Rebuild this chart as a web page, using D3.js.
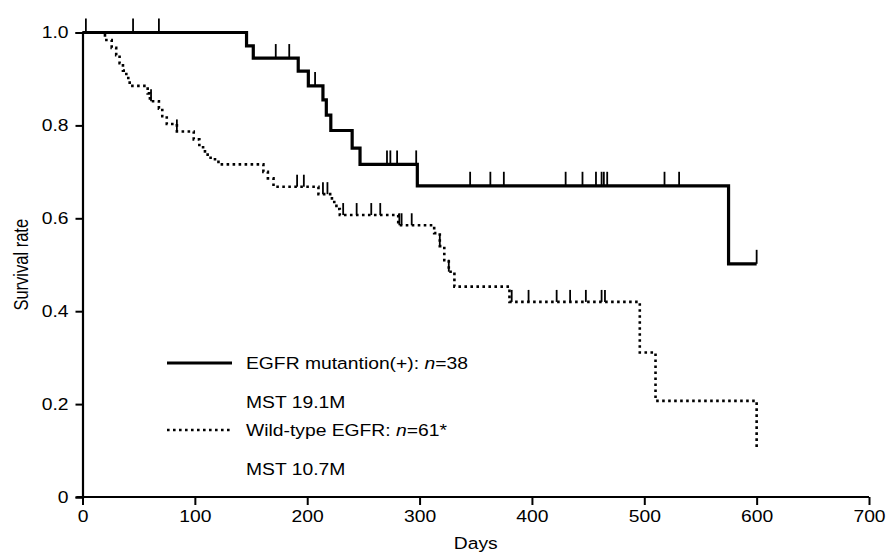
<!DOCTYPE html>
<html>
<head>
<meta charset="utf-8">
<script src="https://cdn.jsdelivr.net/npm/d3@7"></script>
<style>
  body { margin: 0; background: #fff; }
  svg { display: block; font-family: "Liberation Sans", Arial, sans-serif; }
</style>
</head>
<body>
<svg id="chart" width="889" height="552"></svg>
<script>
// step curves: [day, survival]
const mutantSteps = [[0, 1.0], [146, 0.971], [152, 0.945], [192, 0.917], [201, 0.885], [214, 0.855],
  [217, 0.822], [221, 0.789], [240, 0.751], [247, 0.716], [298, 0.670], [575, 0.502]];
const mutantEnd = 600;
const mutantCensored = [3, 45, 68, 172, 184, 207, 271, 274, 280, 297, 345, 363, 375, 430, 445, 457,
  462, 464, 467, 518, 531, 600];

const wildSteps = [[0, 1.0], [20, 0.984], [26, 0.967], [30, 0.951], [33, 0.934], [36, 0.918], [39, 0.902],
  [42, 0.885], [58, 0.869], [60, 0.852], [68, 0.836], [71, 0.820], [75, 0.803], [84, 0.787], [99, 0.770],
  [104, 0.753], [109, 0.737], [114, 0.727], [121, 0.716], [161, 0.700], [165, 0.686], [170, 0.668],
  [210, 0.652], [222, 0.635], [226, 0.620], [229, 0.607], [281, 0.585], [313, 0.568], [318, 0.540],
  [322, 0.510], [326, 0.485], [331, 0.453], [380, 0.420], [496, 0.311], [510, 0.207], [600, 0.105]];
const wildEnd = 600;
const wildCensored = [61, 84, 191, 197, 214, 218, 232, 244, 257, 265, 282, 284, 293, 318, 326,
  382, 397, 422, 434, 448, 462, 465];

const xTicks = [0, 100, 200, 300, 400, 500, 600, 700];
const yTicks = [0, 0.2, 0.4, 0.6, 0.8, 1.0];

const fontSize = 16.5;
const stretch = 1.17; // the scanned figure is a little wider than tall

const svg = d3.select("#chart");
const x = d3.scaleLinear().domain([0, 700]).range([82.5, 869]);
const y = d3.scaleLinear().domain([0, 1]).range([497, 32.5]);

function survAt(steps, t) {
  let v = steps[0][1];
  for (const s of steps) { if (s[0] <= t) v = s[1]; }
  return v;
}

// axes
const xAxis = svg.append("g")
  .attr("transform", `translate(0,${y(0)})`)
  .call(d3.axisBottom(x).tickValues(xTicks).tickSize(8).tickPadding(5).tickFormat(d3.format("d")));
const yAxis = svg.append("g")
  .attr("transform", `translate(${x(0)},0)`)
  .call(d3.axisLeft(y).tickValues(yTicks).tickSize(7)
    .tickFormat(d => d === 0 ? "0" : d3.format(".1f")(d)));

[xAxis, yAxis].forEach(a => {
  a.select(".domain").attr("stroke", "#000").attr("stroke-width", 2.2);
  a.selectAll(".tick line").attr("stroke", "#000").attr("stroke-width", 2);
  a.selectAll(".tick text").attr("fill", "#000").attr("font-size", fontSize)
    .attr("font-family", "Liberation Sans, Arial, sans-serif")
    .attr("transform", `scale(${stretch},1)`);
});
yAxis.selectAll(".tick text").attr("x", -14 / stretch);
xAxis.select(".domain").attr("d", `M${x(0) - 6},0H${x(700)}`);

function label(px, py, txt, anchor) {
  return svg.append("text")
    .attr("transform", `translate(${px},${py}) scale(${stretch},1)`)
    .attr("text-anchor", anchor || "start")
    .attr("font-size", fontSize)
    .text(txt);
}

label((x(0) + x(700)) / 2, 548.5, "Days", "middle");
svg.append("text").attr("transform", `translate(27.5,${(y(0) + y(1)) / 2}) scale(${stretch},1) rotate(-90)`)
  .attr("text-anchor", "middle").attr("font-size", fontSize).text("Survival rate");

// curves
const line = d3.line().x(d => x(d[0])).y(d => y(d[1])).curve(d3.curveStepAfter);
const mutantPts = mutantSteps.concat([[mutantEnd, mutantSteps[mutantSteps.length - 1][1]]]);
const wildPts = wildSteps.concat([[wildEnd, wildSteps[wildSteps.length - 1][1]]]);

svg.append("path").datum(wildPts).attr("d", line)
  .attr("fill", "none").attr("stroke", "#000").attr("stroke-width", 2.6)
  .attr("stroke-dasharray", "2.6,3.4");

svg.append("path").datum(mutantPts).attr("d", line)
  .attr("fill", "none").attr("stroke", "#000").attr("stroke-width", 3.2);

// censor marks
svg.append("g").selectAll("line").data(wildCensored).join("line")
  .attr("x1", d => x(d)).attr("x2", d => x(d))
  .attr("y1", d => y(survAt(wildSteps, d))).attr("y2", d => y(survAt(wildSteps, d)) - 12)
  .attr("stroke", "#000").attr("stroke-width", 1.8);

svg.append("g").selectAll("line").data(mutantCensored).join("line")
  .attr("x1", d => x(d)).attr("x2", d => x(d))
  .attr("y1", d => y(survAt(mutantSteps, d))).attr("y2", d => y(survAt(mutantSteps, d)) - 14)
  .attr("stroke", "#000").attr("stroke-width", 1.8);

// legend
svg.append("line").attr("x1", 167).attr("x2", 232).attr("y1", 363).attr("y2", 363)
  .attr("stroke", "#000").attr("stroke-width", 3.2);
svg.append("line").attr("x1", 167).attr("x2", 232).attr("y1", 430).attr("y2", 430)
  .attr("stroke", "#000").attr("stroke-width", 2.6).attr("stroke-dasharray", "2.6,3.4");

const t1 = label(246, 369, "");
t1.append("tspan").text("EGFR mutantion(+): ");
t1.append("tspan").attr("font-style", "italic").text("n");
t1.append("tspan").text("=38");
label(246, 407.5, "MST 19.1M");
const t2 = label(246, 436, "");
t2.append("tspan").text("Wild-type EGFR: ");
t2.append("tspan").attr("font-style", "italic").text("n");
t2.append("tspan").text("=61*");
label(246, 475, "MST 10.7M");
</script>
</body>
</html>
